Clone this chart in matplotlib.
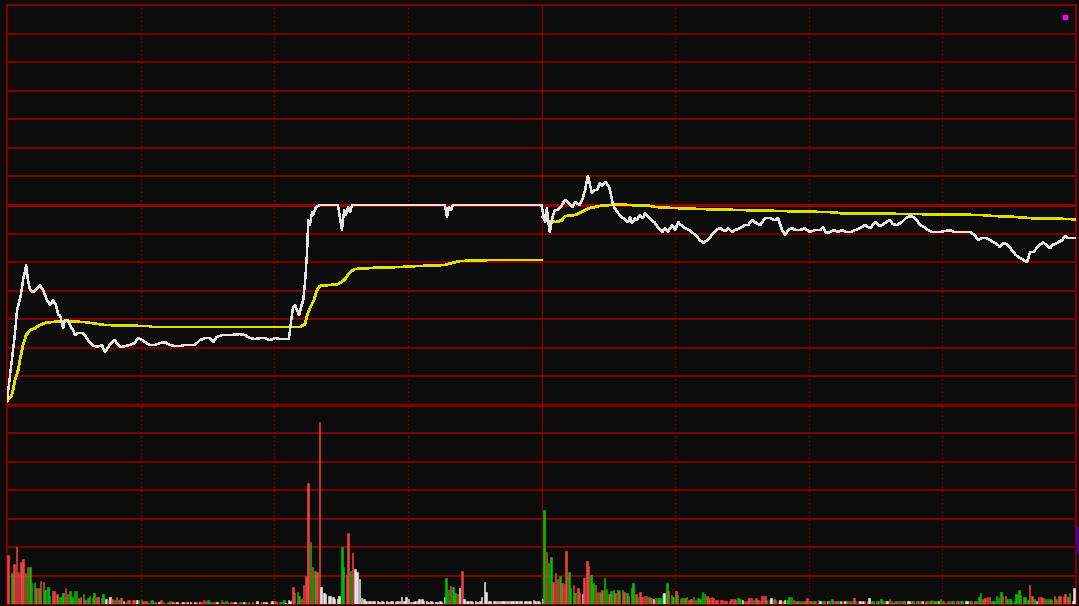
"""Intraday chart (price, average price, volume) on a black background"""
import numpy as np
import matplotlib
matplotlib.use("Agg")
import matplotlib.pyplot as plt
from matplotlib.patches import Rectangle

# --- price line (minutes from open, change in grid units vs previous close) ---
price_t = [0, 1.35, 1.8, 2.25, 3.1, 3.6, 4.3, 4.7, 5.2, 5.8, 6.5, 7.4, 8.1, 9.0, 9.7,
           10.3, 11.0, 11.5, 11.9, 12.6, 13.0, 13.7, 14.1, 14.8, 15.3, 15.9, 16.8, 17.5,
           18.2, 19.1, 20.2, 21.3, 22.0, 22.7, 23.6, 24.2, 24.9, 25.6, 26.5, 27.6, 28.7,
           29.4, 30.3, 31.0, 32.1, 33.2, 34.4, 35.5, 36.6, 37.7, 38.8, 40.0, 41.1, 42.2,
           43.3, 44.5, 45.6, 46.3, 47.1, 48.3, 50.1, 52.3, 53.4, 54.6, 55.7, 56.8, 57.9,
           59.0, 60.2, 61.3, 62.4, 63.3, 63.8, 64.2, 64.7, 65.1, 65.6, 66.0, 66.5, 66.9,
           67.4, 67.6, 68.0, 68.5, 68.7, 69.4, 70.3, 74.3, 75.2, 75.7, 76.1, 76.6, 77.0,
           77.5, 98.3, 98.8, 99.2, 99.7, 100.1, 120.0,
           120.3, 120.8, 121.2, 121.7, 121.9, 122.1, 122.6, 123.0, 123.7, 124.6, 125.3,
           126.0, 126.9, 127.5, 128.6, 129.3, 129.8, 130.4, 130.9, 131.3, 131.8, 132.5,
           133.1, 133.6, 134.3, 134.9, 135.4, 135.8, 136.3, 137.0, 137.6, 138.3, 139.0,
           139.4, 139.9, 140.3, 141.0, 141.4, 142.1, 142.8, 143.2, 143.9, 144.8, 145.5,
           146.2, 147.1, 147.7, 148.4, 149.3, 150.0, 150.7, 151.3, 152.2, 153.3, 154.5,
           155.6, 156.3, 157.2, 157.8, 158.5, 159.2, 160.1, 161.2, 161.9, 162.8, 163.4,
           164.6, 165.7, 166.4, 167.3, 167.9, 169.1, 170.2, 171.3, 172.4, 173.1, 174.0,
           174.7, 175.3, 176.2, 177.1, 178.0, 179.1, 180.2, 181.3, 182.5, 183.2, 183.9,
           184.8, 185.7, 186.6, 187.5, 188.4, 189.3, 190.4, 191.5, 192.6, 193.8, 194.9,
           196.0, 197.1, 198.2, 198.9, 199.8, 200.9, 201.8, 202.7, 203.6, 204.3, 205.0,
           205.9, 206.8, 207.7, 208.6, 209.5, 210.6, 211.7, 212.8, 214.0, 215.1, 216.2,
           217.3, 218.0, 218.9, 219.8, 220.7, 221.8, 222.5, 222.9, 223.8, 224.7, 225.6,
           226.5, 227.4, 228.3, 229.0, 229.7, 230.4, 231.0, 231.9, 232.6, 233.3, 234.2,
           234.6, 235.3, 236.0, 236.9, 237.6, 238.3, 240.0]
price_v = [-6.86, -5.08, -4.48, -3.68, -3.15, -2.63, -2.10, -2.63, -2.98, -3.05, -2.98,
           -2.80, -2.98, -3.33, -3.50, -3.33, -3.50, -3.85, -3.85, -4.31, -4.03, -4.03,
           -4.20, -4.38, -4.55, -4.48, -4.48, -4.55, -4.73, -4.90, -4.97, -4.90, -5.15,
           -4.97, -4.80, -4.73, -4.90, -4.97, -4.94, -4.90, -4.83, -4.66, -4.73, -4.80,
           -4.90, -4.90, -4.83, -4.80, -4.90, -4.94, -4.94, -4.90, -4.90, -4.90, -4.73,
           -4.66, -4.66, -4.80, -4.62, -4.55, -4.55, -4.52, -4.55, -4.66, -4.69, -4.66,
           -4.66, -4.73, -4.66, -4.69, -4.69, -4.69, -4.03, -3.61, -3.50, -3.68, -3.85,
           -3.57, -3.33, -2.73, -1.58, -0.53, -0.70, -0.25, -0.35, -0.07, 0.0, 0.0,
           -0.88, -0.18, -0.35, -0.07, -0.25, 0.0, 0.0, -0.42, -0.07, -0.18, 0.0, 0.0,
           -0.25, -0.60, -0.10, -0.81, -0.95, -0.70, -0.35, -0.18, -0.18, 0.0, 0.18,
           0.07, -0.07, 0.10, 0.0, 0.25, 0.53, 1.02, 0.70, 0.42, 0.53, 0.53,
           0.77, 0.67, 0.81, 0.70, 0.53, 0.18, -0.07, -0.25, -0.35, -0.46, -0.53,
           -0.60, -0.42, -0.63, -0.46, -0.53, -0.35, -0.46, -0.28, -0.42, -0.53, -0.63,
           -0.81, -0.95, -0.81, -0.95, -0.70, -0.88, -0.60, -0.70, -0.81, -0.88, -1.05,
           -1.23, -1.33, -1.23, -1.16, -0.98, -0.88, -0.81, -0.91, -0.81, -0.95, -0.88,
           -0.81, -0.70, -0.70, -0.53, -0.60, -0.70, -0.46, -0.46, -0.53, -0.46, -0.88,
           -1.05, -0.88, -0.81, -0.88, -0.88, -0.81, -0.95, -0.88, -0.88, -0.77, -0.98,
           -0.95, -0.88, -0.95, -0.88, -0.95, -0.95, -0.88, -0.81, -0.70, -0.81, -0.60,
           -0.74, -0.63, -0.53, -0.67, -0.70, -0.60, -0.46, -0.39, -0.42, -0.53, -0.70,
           -0.77, -0.88, -0.95, -0.95, -0.95, -0.91, -0.88, -0.95, -0.95, -0.95, -0.95,
           -1.05, -1.23, -1.16, -1.16, -1.23, -1.33, -1.40, -1.47, -1.33, -1.40, -1.58,
           -1.75, -1.86, -1.93, -2.00, -1.65, -1.65, -1.54, -1.40, -1.30, -1.40, -1.51,
           -1.40, -1.37, -1.30, -1.23, -1.09, -1.16, -1.16]

# --- average price line, morning and afternoon sessions ---
avg_am_t = [0, 1.1, 1.8, 2.5, 2.9, 3.6, 4.3, 5.2, 6.3, 7.4, 8.5, 9.7, 13.0, 17.5, 22.0,
            32.1, 32.6, 65.8, 66.9, 67.4, 68.0, 68.9, 69.6, 70.3, 72.5, 74.3, 75.7, 77.0,
            78.1, 82.2, 88.3, 91.6, 98.3, 99.0, 100.6, 101.7, 107.8, 120.0]
avg_am_v = [-6.86, -6.65, -6.13, -5.78, -5.43, -4.90, -4.55, -4.38, -4.31, -4.20, -4.13,
            -4.10, -4.06, -4.10, -4.20, -4.24, -4.27, -4.27, -4.17, -3.85, -3.61, -3.33,
            -2.98, -2.83, -2.80, -2.77, -2.63, -2.35, -2.24, -2.20, -2.17, -2.14, -2.10,
            -2.07, -2.00, -1.96, -1.93, -1.93]
avg_pm_t = [120.3, 121.5, 123.3, 124.6, 125.3, 127.5, 128.6, 129.8, 130.9, 132.0, 133.1,
            135.4, 137.6, 139.4, 144.4, 145.5, 148.9, 155.6, 165.7, 173.6, 184.8, 188.1,
            200.5, 219.1, 219.6, 226.7, 229.7, 238.7, 240.0]
avg_pm_v = [-0.42, -0.56, -0.60, -0.53, -0.39, -0.35, -0.28, -0.18, -0.10, -0.07, -0.03,
            0.0, 0.03, 0.0, -0.03, -0.07, -0.10, -0.14, -0.18, -0.21, -0.25, -0.30,
            -0.31, -0.35, -0.37, -0.42, -0.46, -0.49, -0.52]

# --- volume: two bars per minute (a, b), grid units; colour r/g/w ---
vol_a = [1.72, 1.08, 2.0, 1.49, 1.08, 1.29, 0.73, 0.55, 0.76, 0.61,
         0.46, 0.34, 0.23, 0.55, 0.46, 0.46, 0.2, 0.35, 0.2, 0.2,
         0.23, 0.2, 0.16, 0.23, 0.14, 0.14, 0.1, 0.14, 0.14, 0.14,
         0.14, 0.12, 0.12, 0.08, 0.08, 0.06, 0.08, 0.08, 0.08, 0.08,
         0.08, 0.08, 0.08, 0.08, 0.14, 0.14, 0.08, 0.06, 0.14, 0.12,
         0.08, 0.08, 0.08, 0.08, 0.08, 0.08, 0.12, 0.08, 0.06, 0.08,
         0.12, 0.08, 0.14, 0.14, 0.6, 0.43, 0.18, 0.98, 2.19, 1.17,
         6.41, 0.4, 0.29, 0.23, 0.18, 2.02, 1.02, 1.17, 1.23, 0.87,
         0.18, 0.12, 0.12, 0.12, 0.1, 0.12, 0.1, 0.08, 0.1, 0.12,
         0.18, 0.08, 0.12, 0.16, 0.12, 0.12, 0.08, 0.12, 0.23, 0.49,
         0.59, 0.34, 1.17, 0.12, 0.12, 0.12, 0.1, 0.76, 0.12, 0.1,
         0.1, 0.12, 0.1, 0.1, 0.1, 0.1, 0.1, 0.1, 0.14, 0.1,
         0.18, 1.82, 1.66, 1.08, 0.98, 0.7, 1.14, 0.67, 0.55, 0.35,
         1.51, 1.02, 0.66, 0.43, 0.93, 0.34, 0.49, 0.49, 0.49, 0.37,
         0.55, 0.34, 0.43, 0.28, 0.26, 0.18, 0.22, 0.34, 0.75, 0.32,
         0.46, 0.18, 0.2, 0.15, 0.24, 0.2, 0.41, 0.29, 0.24, 0.14,
         0.15, 0.12, 0.12, 0.17, 0.2, 0.15, 0.12, 0.2, 0.2, 0.12,
         0.27, 0.15, 0.17, 0.12, 0.12, 0.15, 0.24, 0.12, 0.12, 0.12,
         0.12, 0.12, 0.15, 0.09, 0.09, 0.17, 0.12, 0.12, 0.09, 0.12,
         0.2, 0.09, 0.09, 0.09, 0.12, 0.12, 0.17, 0.12, 0.17, 0.08,
         0.12, 0.12, 0.12, 0.09, 0.09, 0.12, 0.12, 0.12, 0.12, 0.12,
         0.12, 0.12, 0.09, 0.09, 0.12, 0.12, 0.12, 0.12, 0.26, 0.18,
         0.24, 0.12, 0.29, 0.43, 0.29, 0.18, 0.12, 0.49, 0.24, 0.15,
         0.29, 0.12, 0.24, 0.18, 0.18, 0.29, 0.27, 0.26, 0.24, 0.09,
         0.0]
vol_b = [0.0, 1.41, 1.14, 1.6, 1.29, 0.73, 0.55, 0.82, 0.49, 0.28,
         0.46, 0.23, 0.4, 0.35, 0.23, 0.46, 0.23, 0.14, 0.28, 0.4,
         0.23, 0.35, 0.14, 0.16, 0.23, 0.2, 0.08, 0.14, 0.14, 0.14,
         0.12, 0.08, 0.14, 0.0, 0.14, 0.0, 0.12, 0.06, 0.0, 0.08,
         0.08, 0.0, 0.08, 0.08, 0.12, 0.08, 0.08, 0.0, 0.08, 0.08,
         0.08, 0.0, 0.08, 0.08, 0.0, 0.0, 0.0, 0.08, 0.0, 0.12,
         0.08, 0.08, 0.05, 0.1, 0.4, 0.28, 0.67, 4.24, 1.29, 1.14,
         0.6, 0.35, 0.29, 0.18, 0.29, 1.29, 2.49, 1.8, 1.14, 0.2,
         0.12, 0.1, 0.12, 0.08, 0.08, 0.08, 0.12, 0.1, 0.23, 0.23,
         0.08, 0.12, 0.16, 0.1, 0.08, 0.08, 0.08, 0.08, 0.9, 0.64,
         0.37, 0.55, 0.18, 0.1, 0.08, 0.08, 0.23, 0.43, 0.1, 0.12,
         0.12, 0.1, 0.12, 0.1, 0.1, 0.1, 0.1, 0.1, 0.1, 0.08,
         3.3, 1.45, 0.76, 0.87, 0.75, 1.88, 0.55, 0.4, 0.37, 0.93,
         1.34, 0.73, 0.43, 0.49, 0.52, 0.47, 0.37, 0.47, 0.43, 0.28,
         0.73, 0.26, 0.26, 0.28, 0.22, 0.22, 0.22, 0.37, 0.46, 0.26,
         0.32, 0.2, 0.23, 0.17, 0.15, 0.17, 0.35, 0.2, 0.2, 0.14,
         0.14, 0.12, 0.17, 0.15, 0.17, 0.12, 0.2, 0.15, 0.15, 0.29,
         0.15, 0.2, 0.15, 0.15, 0.15, 0.24, 0.15, 0.12, 0.09, 0.2,
         0.09, 0.09, 0.12, 0.09, 0.09, 0.09, 0.09, 0.12, 0.09, 0.12,
         0.09, 0.09, 0.12, 0.2, 0.12, 0.12, 0.12, 0.12, 0.12, 0.12,
         0.12, 0.12, 0.09, 0.12, 0.12, 0.12, 0.09, 0.15, 0.12, 0.18,
         0.05, 0.12, 0.09, 0.12, 0.09, 0.09, 0.09, 0.09, 0.4, 0.2,
         0.24, 0.12, 0.2, 0.29, 0.18, 0.12, 0.35, 0.33, 0.24, 0.68,
         0.18, 0.24, 0.2, 0.18, 0.15, 0.18, 0.29, 0.35, 0.37, 0.57,
         0.0]
col_a = ("rgrrggggrg" "rrgrggrggr" "rgwwggwrrw" "grgrwgrwwr" "rwwwrgrwgg"
         "rwgwggwrwg" "rggwrgrrgg" "rwwwwgrgww" "wwwwwwwwww" "wwwwwwwwwg"
         "grrwwwwwww" "wwwwwwwwww" "wrgrgrgrrw" "rgrggrgggg" "grrrgwgggg"
         "rrrrgggrrr" "rrrrgwrrrr" "rgrrrggrrr" "ggggwgrwwr" "rrwrgrgrgr"
         "rgwggrggrw" "rggggwgggr" "rgggrgggrg" "rwrggrrrrw" "w")
col_b = ("wrrrrgrrgg" "rggrggrrgg" "rgrrrrgrrg" "rggwrwgrww" "wwrrrgrwrg"
         "rwgrwwwwww" "rgwwrgrrrr" "wwwwwgrrww" "wwwwwwwwww" "wwwwwwwwgr"
         "gwwwwwwwww" "wwwwwwwwww" "ggrrrrggrr" "rgrrggrrrr" "ggrrrrgwrg"
         "gggrrggrrr" "rrrrgrrgrr" "gwgwwgrggr" "rrwrgrgrgg" "gwrwgggwrg"
         "grwrgwrggg" "rrgrgwrrgr" "rggrgggggr" "grrgrgrrgw" "w")

# --- estilos ---
FONDO = "#0c0c0c"
REJILLA = "#7c0000"
COLORES = {"r": "#f04040", "g": "#00c000", "w": "#e6e6e6"}

fig = plt.figure(figsize=(10.79, 6.06), dpi=100, facecolor=FONDO)
ax_p = fig.add_axes([7 / 1079, 1 - 405 / 606, 1069 / 1079, 400 / 606], facecolor=FONDO)
ax_v = fig.add_axes([7 / 1079, 1 - 604 / 606, 1069 / 1079, 199 / 606], facecolor=FONDO)


def preparar(ax, niveles):
    """Rejilla roja, ejes sin etiquetas"""
    for nivel in niveles:
        ax.axhline(nivel, color=REJILLA, lw=1.5, zorder=1)
    for t in [30, 60, 90, 150, 180, 210]:
        ax.axvline(t, color=REJILLA, lw=1.0, ls=(0, (1, 2)), zorder=1)
    ax.axvline(120, color=REJILLA, lw=1.0, zorder=1)
    ax.set_xlim(0, 240)
    ax.set_xticks([])
    ax.set_yticks([])
    for lado in ax.spines.values():
        lado.set_color(REJILLA)
        lado.set_linewidth(1.6)


preparar(ax_p, range(-6, 7))
ax_p.set_ylim(-7, 7)
ax_p.axhline(0, color="#960000", lw=2.2, zorder=1)
ax_p.spines["bottom"].set_linewidth(2.4)
ax_p.plot(price_t, price_v, color="#e4e4e4", lw=1.0, zorder=4, antialiased=False)
ax_p.plot(avg_am_t, avg_am_v, color="#e0e000", lw=1.2, zorder=3, antialiased=False)
ax_p.plot(avg_pm_t, avg_pm_v, color="#e0e000", lw=1.2, zorder=3, antialiased=False)

preparar(ax_v, range(1, 7))
ax_v.set_ylim(0, 7)
ax_v.spines["top"].set_linewidth(2.4)
minutos = np.arange(len(vol_a))
for desfase, alturas, colores in [(0.0, vol_a, col_a), (0.38, vol_b, col_b)]:
    tonos = [COLORES[c] for c in colores]
    ax_v.bar(minutos + desfase, alturas, width=0.34, align="edge",
             color=tonos, edgecolor=tonos, linewidth=0.4, zorder=3)

# pequeños indicadores de la interfaz
fig.add_artist(Rectangle((1063 / 1079, 1 - 19 / 606), 4 / 1079, 4 / 606,
                         transform=fig.transFigure, color="#ff00ff"))
fig.add_artist(Rectangle((1076 / 1079, 1 - 552 / 606), 3 / 1079, 25 / 606,
                         transform=fig.transFigure, color="#4b0082"))

fig.savefig("out.png", dpi=100, facecolor=FONDO)
